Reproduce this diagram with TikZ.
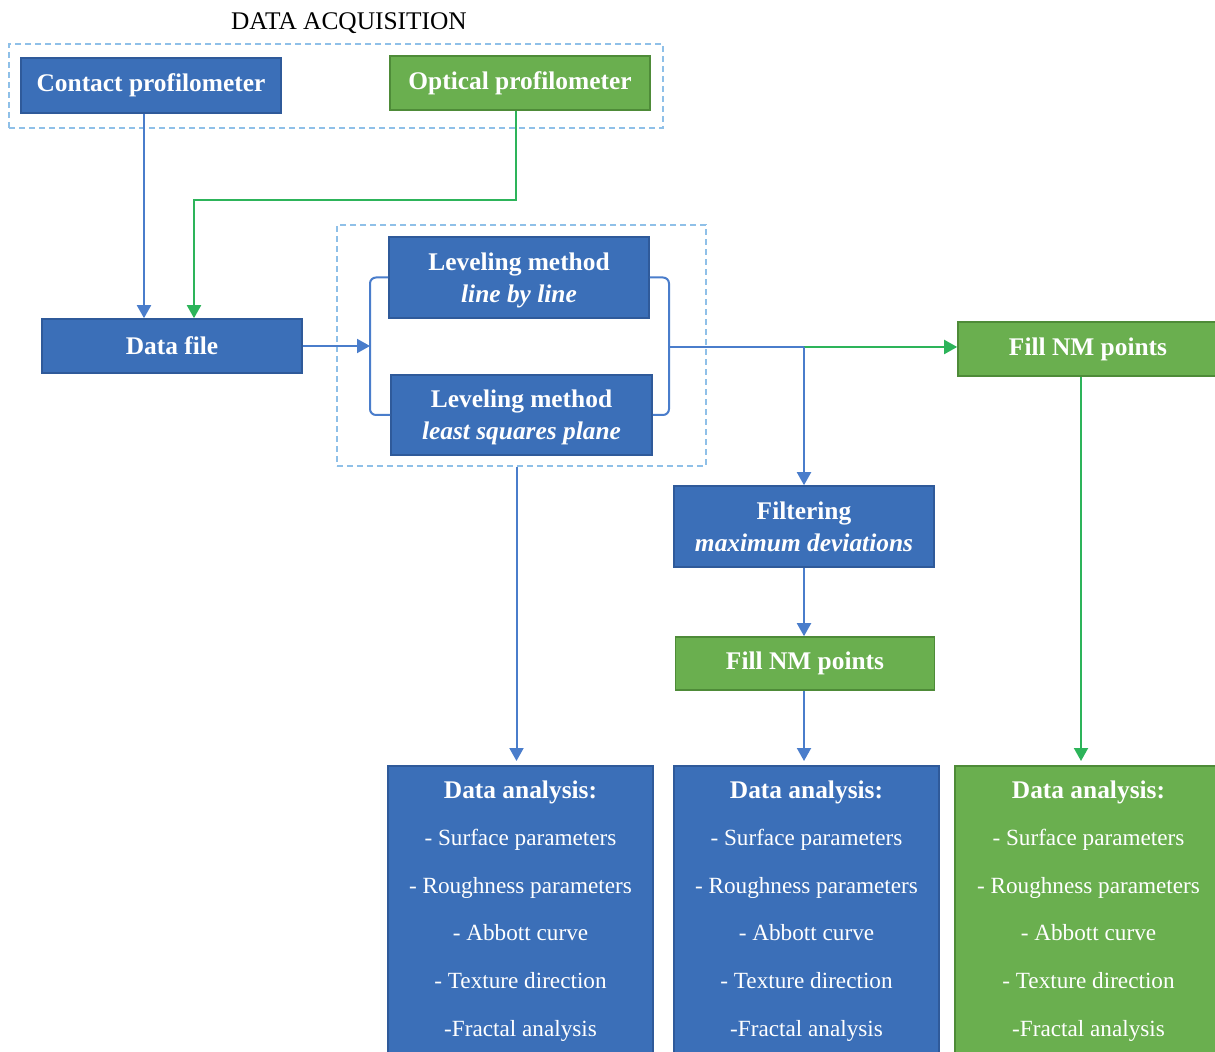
\documentclass[tikz,border=0pt]{standalone}
\usepackage{fontspec}
\setmainfont{Liberation Serif}
\usetikzlibrary{arrows.meta,calc}
\definecolor{boxblue}{HTML}{3B6FB8}
\definecolor{boxblueD}{HTML}{2F5A9A}
\definecolor{boxgreen}{HTML}{6AAF4F}
\definecolor{boxgreenD}{HTML}{4E8B38}
\definecolor{lineblue}{HTML}{4A7DCB}
\definecolor{linegreen}{HTML}{2DB45A}
\definecolor{dashblue}{HTML}{8FC0E8}
\begin{document}
\begin{tikzpicture}[x=0.5pt,y=-0.5pt,
 bbox/.style={draw=boxblueD, fill=boxblue, line width=0.8pt, text=white,
   font=\fontsize{12.7}{16}\selectfont\bfseries, align=center, inner sep=0pt},
 gbox/.style={bbox, draw=boxgreenD, fill=boxgreen},
 dashbox/.style={draw=dashblue, dash pattern=on 3pt off 2pt, line width=1pt, inner sep=0pt},
 bline/.style={draw=lineblue, line width=1pt},
 gline/.style={draw=linegreen, line width=1pt},
 tip/.style={-{Triangle[length=6.5pt,width=7pt]}},
 datext/.style={text=white, align=center, inner sep=0pt, font=\fontsize{11.6}{23.8}\selectfont},
]
\useasboundingbox (0,0) rectangle (1215,1052);
\clip (0,0) rectangle (1215,1052);

\node[font=\fontsize{12.7}{15}\selectfont] (title) at (349,23) {DATA ACQUISITION};
\node[bbox, minimum width=130pt, minimum height=27.5pt] (contact) at (151,85.5) {Contact profilometer};
\node[gbox, minimum width=130pt, minimum height=27pt] (optical) at (520,83) {Optical profilometer};
\node[dashbox, minimum width=327pt, minimum height=42pt] (acq) at (336,86) {};
\node[bbox, minimum width=130pt, minimum height=27pt] (datafile) at (172,346) {Data file};
\node[bbox, minimum width=130pt, minimum height=40.5pt, text depth=0pt] (lev1) at (519,277.5) {Leveling method\\{\itshape line by line}};
\node[bbox, minimum width=130.5pt, minimum height=40pt, text depth=0pt] (lev2) at (521.5,415) {Leveling method\\{\itshape least squares plane}};
\node[dashbox, minimum width=184.5pt, minimum height=120.5pt] (levbox) at (521.5,345.5) {};
\node[bbox, minimum width=130pt, minimum height=40.5pt] (filt) at (804,526.5) {Filtering\\{\itshape maximum deviations}};
\node[gbox, minimum width=129.5pt, minimum height=26.5pt] (fillM) at (805,663.5) {Fill NM points};
\node[gbox, minimum width=130pt, minimum height=27pt] (fillR) at (1088,349) {Fill NM points};

\node[bbox, anchor=north, minimum width=132.5pt, minimum height=150pt] (daL) at (520.5,765) {};
\node[bbox, anchor=north, minimum width=132.5pt, minimum height=150pt] (daM) at (806.5,765) {};
\node[gbox, anchor=north, minimum width=133.5pt, minimum height=150pt] (daR) at (1088.5,765) {};

\foreach \n in {daL,daM,daR}{
  \node[datext, anchor=north] (\n txt) at ([yshift=-7.5pt]\n.north)
   {{\bfseries\fontsize{12.7}{23.8}\selectfont Data analysis:}\\- Surface parameters\\- Roughness parameters\\- Abbott curve\\- Texture direction\\-Fractal analysis};
}

% connectors
\coordinate (dfA) at ([xshift=-14pt]datafile.north);
\coordinate (dfB) at ([xshift=11pt]datafile.north);
\draw[bline,tip] (contact.south -| dfA) -- (dfA);
\draw[gline,tip] ([xshift=-2pt]optical.south) -- ++(0,89) -| (dfB);

\coordinate (brL) at (370,346);
\draw[bline, rounded corners=3pt] (lev1.west) -| (brL) |- (lev2.west);
\draw[bline,tip] (datafile.east) -- (brL);
\coordinate (brR) at (669,347);
\draw[bline, rounded corners=3pt] (lev1.east) -| (brR) |- (lev2.east);
\coordinate (split) at (filt.north |- brR);
\draw[bline] (brR) -- (split);
\draw[gline,tip] (split) -- (split -| fillR.west);
\draw[bline,tip] (split) -- (filt.north);
\draw[bline,tip] (filt.south) -- (filt.south |- fillM.north);
\draw[bline,tip,shorten >=2pt] (filt.south |- fillM.south) -- (filt.south |- daM.north);
\draw[bline,tip,shorten >=2pt] ([xshift=-2.5pt]levbox.south) -- ([xshift=-2.5pt]levbox.south |- daL.north);
\draw[gline,tip,shorten >=2pt] ([xshift=-3.5pt]fillR.south) -- ([xshift=-3.5pt]fillR.south |- daR.north);
\end{tikzpicture}
\end{document}
